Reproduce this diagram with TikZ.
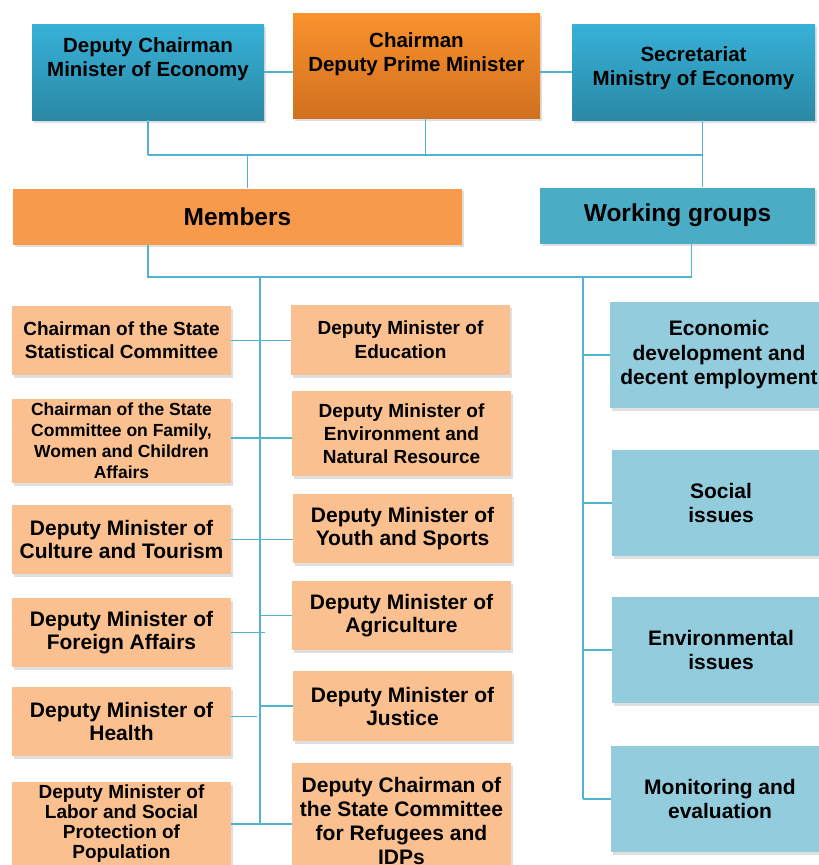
\documentclass[tikz,border=0pt]{standalone}
\usepackage{fontspec}
\setmainfont{Liberation Sans}
\usetikzlibrary{shadows,positioning}
\definecolor{topblue}{HTML}{37B1D7}
\definecolor{topbluedark}{HTML}{2A89A5}
\definecolor{toporange}{HTML}{F9922D}
\definecolor{toporangedark}{HTML}{D1701F}
\definecolor{membersorange}{HTML}{F79A4B}
\definecolor{groupsblue}{HTML}{4BACC6}
\definecolor{paleorange}{HTML}{FAC090}
\definecolor{paleblue}{HTML}{93CDDD}
\definecolor{linkblue}{HTML}{4FB4CF}
\begin{document}
\begin{tikzpicture}[x=1pt,y=-1pt,
    box/.style={rectangle, draw=none, inner sep=2pt, align=center,
        drop shadow={shadow xshift=1.5pt, shadow yshift=-2.5pt, fill=black!25, opacity=.5}},
    bluehead/.style={box, top color=topblue, bottom color=topbluedark,
        minimum width=232, minimum height=96},
    orangehead/.style={box, top color=toporange, bottom color=toporangedark,
        minimum width=247, minimum height=105},
    headtext/.style={align=center, inner sep=0pt,
        font=\fontsize{20.5}{24}\selectfont\bfseries},
    bar/.style={box, minimum height=56, font=\fontsize{24.5}{28}\selectfont\bfseries},
    memberbox/.style={box, fill=paleorange, minimum width=219,
        font=\fontsize{19}{23}\selectfont\bfseries},
    memberbig/.style={font=\fontsize{21}{23}\selectfont\bfseries},
    membersmall/.style={font=\fontsize{17.5}{21}\selectfont\bfseries},
    groupbox/.style={box, fill=paleblue, minimum width=218, minimum height=106,
        font=\fontsize{21}{24.5}\selectfont\bfseries},
    link/.style={draw=linkblue, line width=1.5pt}]

    \clip (0,0) rectangle (819,865);

    % top row
    \node[bluehead] (depchair) at (148,72) {};
    \node[orangehead] (chair) at (416.5,65.5) {};
    \node[bluehead, minimum width=243] (secretariat) at (693.5,72) {};
    \node[headtext] (depchairtext) at (148,59.5) {Deputy Chairman\\Minister of Economy};
    \node[headtext] (chairtext) at (416.5,54) {Chairman\\Deputy Prime Minister};
    \node[headtext] (secretariattext) at (693.5,68.5) {Secretariat\\Ministry of Economy};

    % second row
    \node[bar, fill=membersorange, minimum width=449] (members) at (237.5,216.5) {Members};
    \node[bar, fill=groupsblue, minimum width=275] (groups) at (677.5,215.5) {Working groups};

    \coordinate (topbus) at (0,155);
    \coordinate (memberspine) at (260,277);
    \coordinate (groupspine) at (583,277);

    % members, left column
    \node[memberbox, minimum height=69] (stat) at (121.5,340.5)
        {Chairman of the State\\Statistical Committee};
    \node[memberbox, membersmall, minimum height=84] (family) at (121.5,441)
        {Chairman of the State\\Committee on Family,\\Women and Children\\Affairs};
    \node[memberbox, memberbig, minimum height=69] (culture) at (121.5,539.5)
        {Deputy Minister of\\Culture and Tourism};
    \node[memberbox, memberbig, minimum height=69] (foreign) at (121.5,632.5)
        {Deputy Minister of\\Foreign Affairs};
    \node[memberbox, memberbig, minimum height=69] (health) at (121.5,721.5)
        {Deputy Minister of\\Health};
    \node[memberbox, font=\fontsize{19}{20}\selectfont\bfseries, minimum height=84] (labor) at (121.5,824)
        {Deputy Minister of\\Labor and Social\\Protection of\\Population};

    % members, right column
    \node[memberbox, font=\fontsize{19}{24}\selectfont\bfseries, minimum height=70] (education) at (400.5,340)
        {Deputy Minister of\\Education};
    \node[memberbox, minimum height=85] (environment) at (401.5,433.5)
        {Deputy Minister of\\Environment and\\Natural Resource};
    \node[memberbox, memberbig, minimum height=69] (youth) at (402.5,528.5)
        {Deputy Minister of\\Youth and Sports};
    \node[memberbox, memberbig, minimum height=69] (agriculture) at (401.5,615.5)
        {Deputy Minister of\\Agriculture};
    \node[memberbox, memberbig, minimum height=70] (justice) at (402.5,706)
        {Deputy Minister of\\Justice};
    \node[memberbox, font=\fontsize{21}{24}\selectfont\bfseries, minimum height=116] (refugees) at (401.5,821)
        {Deputy Chairman of\\the State Committee\\for Refugees and\\IDPs};

    % working groups
    \node[groupbox] (economic) at (719,355)
        {Economic\\development and\\decent employment};
    \node[groupbox] (social) at (721,503) {Social\\issues};
    \node[groupbox] (environmental) at (721,650) {Environmental\\issues};
    \node[groupbox] (monitoring) at (720,799) {Monitoring and\\evaluation};

    % connectors
    \draw[link] (depchair.east) -- (depchair.east -| chair.west);
    \draw[link] (secretariat.west) -- (secretariat.west -| chair.east);
    \draw[link] (depchair.south) -- (depchair.south |- topbus);
    \draw[link] ([xshift=9]chair.south) -- ([xshift=9]chair.south |- topbus);
    \draw[link] (depchair.south |- topbus) -- ([xshift=9]secretariat.south |- topbus);
    \draw[link] ([xshift=9]secretariat.south) -- ([xshift=9]secretariat.south |- groups.north);
    \draw[link] ([xshift=10]members.north) -- ([xshift=10]members.north |- topbus);
    \draw[link] (depchair.south |- members.south) -- (depchair.south |- memberspine)
        -- ([xshift=14]groups.south |- memberspine) -- ([xshift=14]groups.south);
    \draw[link] (memberspine) -- (memberspine |- labor.east);
    \draw[link] (groupspine) -- (groupspine |- monitoring.west);

    \draw[link] (stat.east) -- (stat.east -| education.west);
    \draw[link] ([yshift=3]family.east) -- ([yshift=3]family.east -| environment.west);
    \draw[link] (culture.east) -- (culture.east -| youth.west);
    \draw[link] (foreign.east) -- ([xshift=5]foreign.east -| memberspine);
    \draw[link] (agriculture.west) -- (agriculture.west -| memberspine);
    \draw[link] ([yshift=5]health.east) -- ([xshift=-3,yshift=5]health.east -| memberspine);
    \draw[link] (justice.west) -- (justice.west -| memberspine);
    \draw[link] (labor.east) -- (labor.east -| refugees.west);

    \draw[link] (economic.west) -- (economic.west -| groupspine);
    \draw[link] (social.west) -- (social.west -| groupspine);
    \draw[link] (environmental.west) -- (environmental.west -| groupspine);
    \draw[link] (monitoring.west) -- (monitoring.west -| groupspine);
\end{tikzpicture}
\end{document}
